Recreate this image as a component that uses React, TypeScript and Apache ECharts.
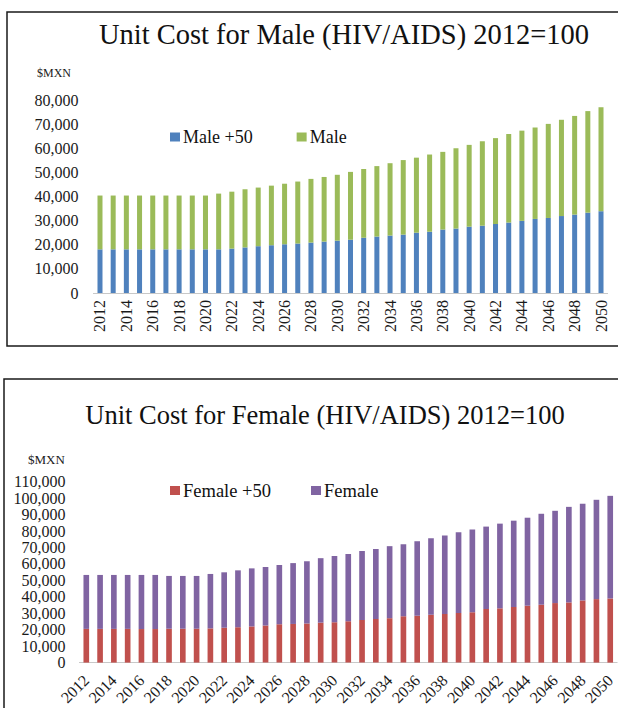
import React, { useEffect, useRef } from "react";
import * as echarts from "echarts";

const years = [
  "2012", "2013", "2014", "2015", "2016", "2017", "2018", "2019", "2020", "2021",
  "2022", "2023", "2024", "2025", "2026", "2027", "2028", "2029", "2030", "2031",
  "2032", "2033", "2034", "2035", "2036", "2037", "2038", "2039", "2040", "2041",
  "2042", "2043", "2044", "2045", "2046", "2047", "2048", "2049", "2050",
];

// Top chart: stacked segments
const malePlus50 = [
  18100, 18100, 18100, 18100, 18100, 18100, 18100, 18100, 18100, 18100,
  18400, 18900, 19400, 19800, 20200, 20500, 20900, 21300, 21700, 22100,
  22900, 23400, 23800, 24200, 25000, 25400, 26300, 26700, 27500, 27900,
  28600, 29200, 29900, 30700, 31100, 31900, 32500, 33300, 33900,
];
const male = [
  22300, 22300, 22300, 22300, 22300, 22300, 22300, 22300, 22300, 23100,
  23600, 24100, 24300, 24700, 25100, 25700, 26400, 26800, 27300, 28100,
  28500, 29200, 30000, 30900, 31100, 32000, 32200, 33300, 33900, 35000,
  35600, 36700, 37400, 37900, 39000, 39900, 40900, 42100, 43100,
];

// Bottom chart: stacked segments
const femalePlus50 = [
  20500, 20500, 20500, 20500, 20400, 20400, 20600, 20600, 20600, 20800,
  21200, 21500, 22000, 22500, 23300, 23500, 23700, 24300, 24500, 25100,
  25900, 26500, 27000, 28200, 28500, 29100, 29600, 30200, 30600, 32600,
  33000, 33800, 34600, 35200, 36200, 36600, 37800, 38600, 39000,
];
const female = [
  32800, 32800, 32800, 32800, 32900, 32900, 32100, 32100, 32100, 33100,
  33700, 34600, 35300, 35600, 36000, 37000, 38000, 39200, 40300, 40900,
  41900, 42500, 43800, 43800, 45300, 46500, 47700, 49000, 50300, 50100,
  51500, 52500, 53500, 55300, 56100, 58100, 58800, 60400, 62400,
];

const titleTop = "Unit Cost for Male (HIV/AIDS) 2012=100";
const titleBottom = "Unit Cost for Female (HIV/AIDS) 2012=100";
const unitLabel = "$MXN";

const FONT = "'Liberation Serif', 'Times New Roman', serif";
const fmt = (v: number) => v.toLocaleString("en-US");

export default function App() {
  const ref = useRef<HTMLDivElement>(null);
  useEffect(() => {
    if (!ref.current) return;
    const chart = echarts.init(ref.current, undefined, { renderer: "svg" });
    const labelStyle = { fontFamily: FONT, fontSize: 16, color: "#1a1a1a" };
    chart.setOption({
      animation: false,
      backgroundColor: "#ffffff",
      graphic: [
        {
          type: "rect",
          shape: { x: 7, y: 12, width: 640, height: 334 },
          style: { fill: "none", stroke: "#1a1a1a", lineWidth: 1.5 },
          z: -1,
        },
        {
          type: "rect",
          shape: { x: 4, y: 379, width: 640, height: 360 },
          style: { fill: "none", stroke: "#1a1a1a", lineWidth: 1.5 },
          z: -1,
        },
      ],
      title: [
        {
          text: titleTop,
          left: 339,
          top: 15,
          textAlign: "center",
          textStyle: { fontFamily: FONT, fontSize: 28.5, fontWeight: "normal", color: "#111" },
        },
        {
          text: unitLabel,
          left: 32,
          top: 62,
          textStyle: { fontFamily: FONT, fontSize: 12, fontWeight: "normal", color: "#1a1a1a" },
        },
        {
          text: titleBottom,
          left: 320,
          top: 396,
          textAlign: "center",
          textStyle: { fontFamily: FONT, fontSize: 26.5, fontWeight: "normal", color: "#111" },
        },
        {
          text: unitLabel,
          left: 23,
          top: 448,
          textStyle: { fontFamily: FONT, fontSize: 13, fontWeight: "normal", color: "#1a1a1a" },
        },
      ],
      legend: [
        {
          data: ["Male +50", "Male"],
          left: 165,
          top: 123,
          icon: "rect",
          itemWidth: 10,
          itemHeight: 9,
          itemGap: 44,
          textStyle: { fontFamily: FONT, fontSize: 18, color: "#111", padding: [0, 0, 0, -2] },
        },
        {
          data: ["Female +50", "Female"],
          left: 165,
          top: 476,
          icon: "rect",
          itemWidth: 10,
          itemHeight: 9,
          itemGap: 40,
          textStyle: { fontFamily: FONT, fontSize: 18.5, color: "#111", padding: [0, 0, 0, -2] },
        },
      ],
      grid: [
        { left: 93.4, right: 10.4, top: 100, height: 193, containLabel: false },
        { left: 79.4, right: 0.3, top: 481.7, height: 182.3, containLabel: false },
      ],
      xAxis: [
        {
          type: "category",
          gridIndex: 0,
          data: years,
          axisLine: { lineStyle: { color: "#c8c8c8", width: 1 } },
          axisTick: { show: false },
          axisLabel: { ...labelStyle, rotate: 90, interval: 1, margin: 7 },
        },
        {
          type: "category",
          gridIndex: 1,
          data: years,
          axisLine: { lineStyle: { color: "#c8c8c8", width: 1 } },
          axisTick: { show: false },
          axisLabel: { ...labelStyle, rotate: 45, interval: 1, margin: 15 },
        },
      ],
      yAxis: [
        {
          type: "value",
          gridIndex: 0,
          min: 0,
          max: 80000,
          interval: 10000,
          splitLine: { show: false },
          axisLine: { show: false },
          axisTick: { show: false },
          axisLabel: { ...labelStyle, margin: 15, formatter: fmt },
        },
        {
          type: "value",
          gridIndex: 1,
          min: 0,
          max: 110000,
          interval: 10000,
          splitLine: { show: false },
          axisLine: { show: false },
          axisTick: { show: false },
          axisLabel: { ...labelStyle, margin: 14, formatter: fmt },
        },
      ],
      series: [
        {
          name: "Male +50",
          type: "bar",
          xAxisIndex: 0,
          yAxisIndex: 0,
          stack: "m",
          barWidth: "38%",
          itemStyle: { color: "#4F81BD" },
          data: malePlus50,
        },
        {
          name: "Male",
          type: "bar",
          xAxisIndex: 0,
          yAxisIndex: 0,
          stack: "m",
          barWidth: "38%",
          itemStyle: { color: "#9BBB59" },
          data: male,
        },
        {
          name: "Female +50",
          type: "bar",
          xAxisIndex: 1,
          yAxisIndex: 1,
          stack: "f",
          barWidth: "41%",
          itemStyle: { color: "#C0504D" },
          data: femalePlus50,
        },
        {
          name: "Female",
          type: "bar",
          xAxisIndex: 1,
          yAxisIndex: 1,
          stack: "f",
          barWidth: "41%",
          itemStyle: { color: "#8064A2" },
          data: female,
        },
      ],
    });
    return () => chart.dispose();
  }, []);
  return (
    <div
      ref={ref}
      style={{ position: "absolute", left: 0, top: 0, width: 618, height: 708, background: "#fff" }}
    />
  );
}
